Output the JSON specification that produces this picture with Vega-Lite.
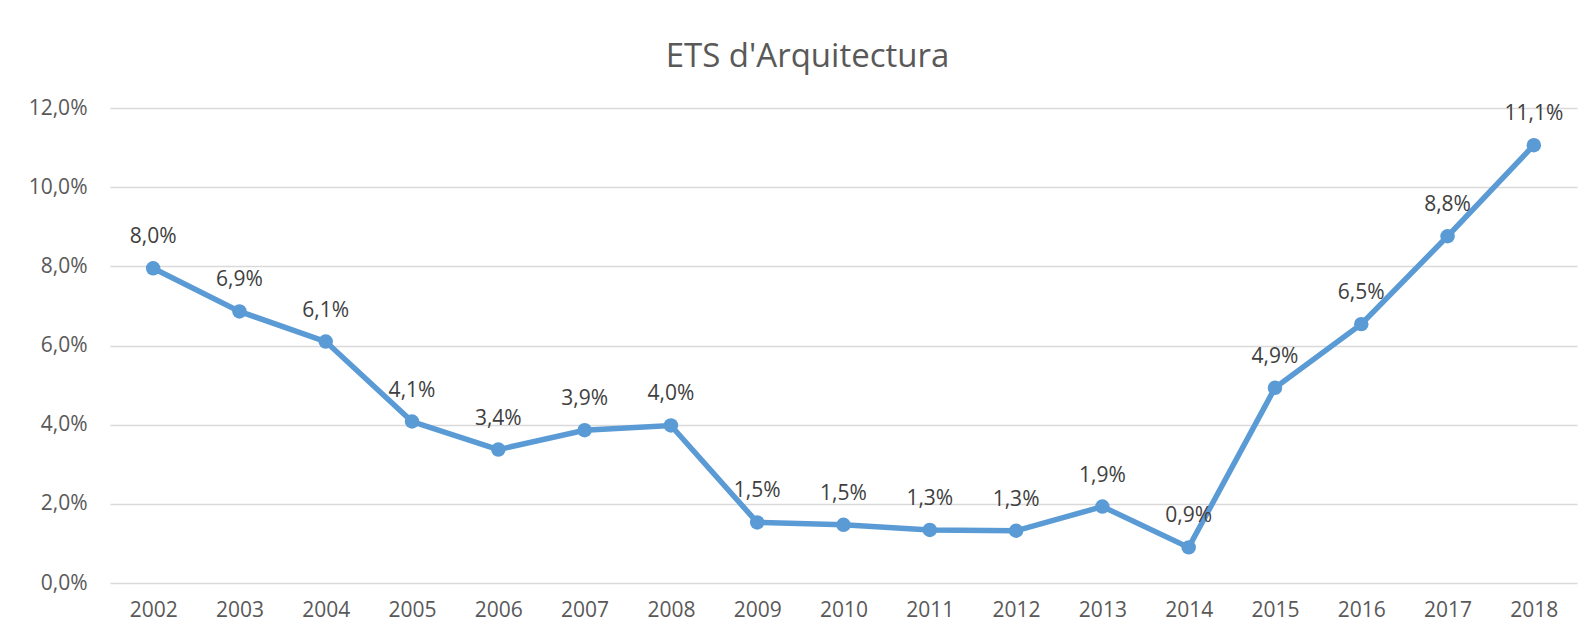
{
  "$schema": "https://vega.github.io/schema/vega-lite/v6.json",
  "autosize": {"type": "none"},
  "width": 1467,
  "height": 475,
  "padding": {"left": 110, "top": 108, "right": 11, "bottom": 55},
  "background": "white",
  "config": {
    "locale": {"number": {"decimal": ",", "thousands": ".", "grouping": [3], "currency": ["", " €"]}},
    "view": {"stroke": null},
    "font": "Open Sans"
  },
  "title": {
    "text": "ETS d'Arquitectura",
    "fontSize": 33,
    "font": "Open Sans",
    "fontWeight": "normal",
    "color": "#595959",
    "anchor": "middle",
    "dx": -36,
    "offset": 23
  },
  "data": {
    "values": [
      {"year": "2002", "rate": 0.0795},
      {"year": "2003", "rate": 0.0686},
      {"year": "2004", "rate": 0.0610},
      {"year": "2005", "rate": 0.0408},
      {"year": "2006", "rate": 0.0337},
      {"year": "2007", "rate": 0.0386},
      {"year": "2008", "rate": 0.0398},
      {"year": "2009", "rate": 0.0153},
      {"year": "2010", "rate": 0.0147},
      {"year": "2011", "rate": 0.0134},
      {"year": "2012", "rate": 0.0132},
      {"year": "2013", "rate": 0.0193},
      {"year": "2014", "rate": 0.0090},
      {"year": "2015", "rate": 0.0493},
      {"year": "2016", "rate": 0.0654},
      {"year": "2017", "rate": 0.0876},
      {"year": "2018", "rate": 0.1106}
    ]
  },
  "encoding": {
    "x": {
      "field": "year", "type": "ordinal", "title": null,
      "scale": {"paddingInner": 0, "paddingOuter": 0.5},
      "axis": {"labelAngle": 0, "ticks": false, "domain": false, "grid": false,
               "labelFontSize": 21, "labelColor": "#595959", "labelPadding": 16, "labelFont": "Open Sans"}
    },
    "y": {
      "field": "rate", "type": "quantitative", "title": null,
      "scale": {"domain": [0, 0.12], "nice": false},
      "axis": {"format": ".1%", "values": [0, 0.02, 0.04, 0.06, 0.08, 0.10, 0.12], "labelOverlap": false,
               "ticks": false, "domain": false, "grid": true, "gridColor": "#d9d9d9", "gridWidth": 1.5,
               "labelFontSize": 21, "labelColor": "#595959", "labelPadding": 23, "labelFont": "Open Sans"}
    }
  },
  "layer": [
    {"mark": {"type": "line", "color": "#5b9bd5", "strokeWidth": 5.5}},
    {"mark": {"type": "point", "filled": true, "color": "#5b9bd5", "opacity": 1, "size": 210}},
    {
      "mark": {"type": "text", "dy": -31, "fontSize": 21, "color": "#404040", "font": "Open Sans"},
      "encoding": {"text": {"field": "rate", "type": "quantitative", "format": ".1%"}}
    }
  ]
}
